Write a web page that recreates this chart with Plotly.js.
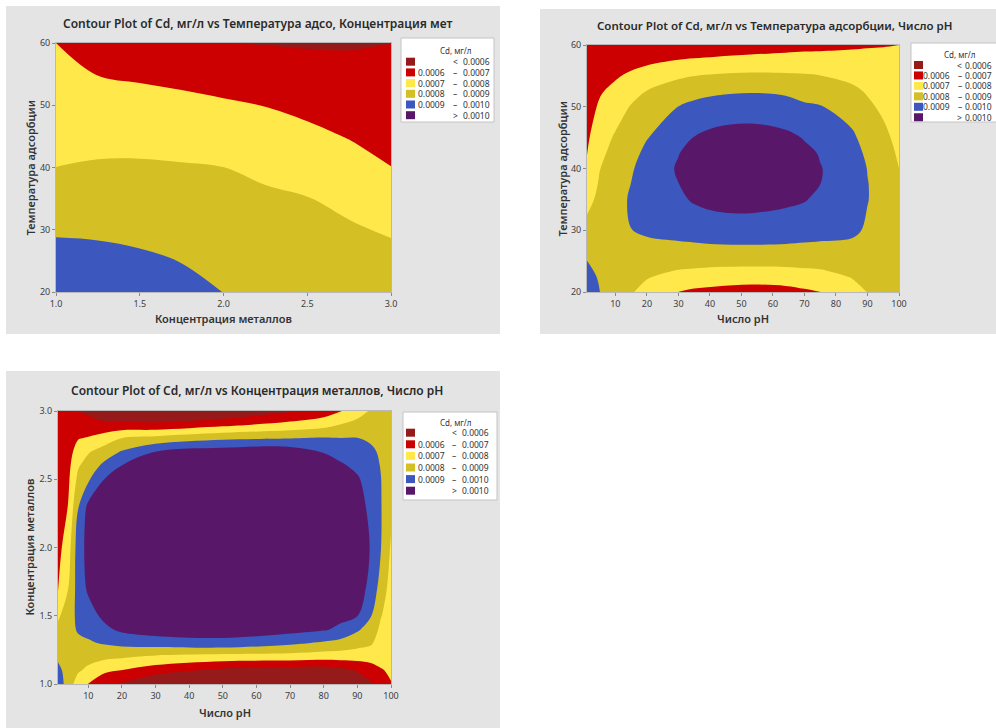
<!DOCTYPE html>
<html>
<head>
<meta charset="utf-8">
<script src="https://cdn.plot.ly/plotly-3.0.1.min.js"></script>
<style>
  html, body { margin: 0; padding: 0; background: #ffffff; }
  #chart { width: 996px; height: 728px; }
</style>
</head>
<body>
<div id="chart"></div>
<script>
// ---- Cd response bands -------------------------------------------------
const levels = [0.0006, 0.0007, 0.0008, 0.0009, 0.0010];           // мг/л
const bandColors = ['#961A1A', '#CC0000', '#FFE94A', '#D4BF25', '#3C57BE', '#591769'];
const legendTitle = 'Cd, мг/л';
const Z_UNIT = 1e-4;   // the z grids below are written in units of 1e-4 мг/л

// ---- Panel A: Температура адсорбции vs Концентрация металлов -----------
const titleA = 'Contour Plot of Cd, мг/л vs Температура адсо, Концентрация мет';
const xTitleA = 'Концентрация металлов';
const yTitleA = 'Температура адсорбции';
const concA = [1.0, 1.25, 1.5, 1.75, 2.0, 2.25, 2.5, 2.75, 3.0];
const tempA = [20, 25, 30, 35, 40, 45, 50, 55, 60];
const cdA = [
  [9.79, 9.64, 9.48, 9.28, 8.99, 8.87, 8.78, 8.74, 8.70],
  [9.34, 9.25, 9.14, 8.98, 8.76, 8.63, 8.53, 8.43, 8.30],
  [8.89, 8.87, 8.79, 8.67, 8.50, 8.38, 8.28, 8.12, 7.89],
  [8.45, 8.48, 8.45, 8.37, 8.26, 8.14, 8.03, 7.75, 7.45],
  [8.005, 8.10, 8.11, 8.07, 8.005, 7.82, 7.63, 7.35, 7.01],
  [7.75, 7.72, 7.72, 7.66, 7.56, 7.40, 7.21, 6.96, 6.75],
  [7.50, 7.35, 7.30, 7.22, 7.12, 6.98, 6.78, 6.61, 6.50],
  [7.25, 6.98, 6.88, 6.77, 6.59, 6.47, 6.35, 6.26, 6.25],
  [7.00, 6.60, 6.47, 6.32, 6.01, 5.96, 5.92, 5.92, 5.995]
];
const xTicksA = [1.0, 1.5, 2.0, 2.5, 3.0];
const yTicksA = [20, 30, 40, 50, 60];

// ---- Panel B: Температура адсорбции vs Число pH -------------------------
const titleB = 'Contour Plot of Cd, мг/л vs Температура адсорбции, Число pH';
const xTitleB = 'Число pH';
const yTitleB = 'Температура адсорбции';
const phB = [1, 5, 10, 15, 20, 30, 35, 42, 53, 64, 70, 75, 85, 90, 95, 100];
const tempB = [20, 22.5, 25, 27.5, 30, 35, 37.5, 40, 42.5, 45, 50, 52.5, 55, 57.5, 60];
const cdB = [
  [9.71, 9.01, 8.55, 8.07, 7.71, 6.99, 6.82, 6.70, 6.57, 6.66, 6.84, 6.99, 7.66, 8.02, 8.40, 8.50],
  [9.36, 8.88, 8.62, 8.30, 8.07, 7.73, 7.64, 7.53, 7.46, 7.52, 7.63, 7.70, 8.05, 8.25, 8.52, 8.47],
  [9.01, 8.75, 8.68, 8.52, 8.43, 8.35, 8.33, 8.29, 8.28, 8.29, 8.31, 8.33, 8.43, 8.47, 8.60, 8.44],
  [8.66, 8.62, 8.72, 8.76, 8.80, 8.90, 8.91, 8.95, 8.97, 8.95, 8.92, 8.91, 8.82, 8.68, 8.66, 8.40],
  [8.31, 8.49, 8.74, 8.99, 9.15, 9.23, 9.33, 9.45, 9.49, 9.40, 9.32, 9.22, 9.19, 8.88, 8.68, 8.35],
  [7.70, 8.24, 8.70, 9.10, 9.54, 9.80, 10.12, 10.36, 10.41, 10.23, 10.07, 9.75, 9.63, 9.03, 8.66, 8.20],
  [7.42, 8.10, 8.62, 9.01, 9.55, 9.99, 10.33, 10.57, 10.63, 10.45, 10.27, 10.005, 9.65, 9.03, 8.62, 8.10],
  [7.15, 7.97, 8.50, 8.88, 9.48, 10.08, 10.44, 10.69, 10.75, 10.56, 10.38, 10.03, 9.63, 8.97, 8.52, 8.00],
  [6.98, 7.77, 8.32, 8.70, 9.22, 9.97, 10.27, 10.53, 10.61, 10.41, 10.18, 9.95, 9.45, 8.80, 8.38, 7.88],
  [6.86, 7.54, 8.12, 8.50, 8.96, 9.60, 10.03, 10.32, 10.43, 10.22, 9.95, 9.58, 9.20, 8.58, 8.22, 7.75],
  [6.67, 7.10, 7.53, 8.07, 8.34, 9.01, 9.23, 9.39, 9.49, 9.36, 9.15, 9.06, 8.52, 8.16, 7.84, 7.50],
  [6.58, 6.92, 7.21, 7.64, 8.03, 8.46, 8.69, 8.85, 8.94, 8.86, 8.64, 8.54, 8.19, 7.92, 7.62, 7.38],
  [6.48, 6.78, 6.91, 7.15, 7.41, 7.87, 7.99, 8.10, 8.18, 8.14, 8.09, 8.02, 7.79, 7.59, 7.40, 7.25],
  [6.39, 6.64, 6.72, 6.70, 6.80, 7.03, 7.11, 7.22, 7.33, 7.38, 7.40, 7.38, 7.33, 7.26, 7.18, 7.12],
  [6.35, 6.45, 6.45, 6.40, 6.33, 6.30, 6.30, 6.31, 6.46, 6.62, 6.70, 6.74, 6.86, 6.93, 6.97, 7.00]
];
const xTicksB = [10, 20, 30, 40, 50, 60, 70, 80, 90, 100];
const yTicksB = [20, 30, 40, 50, 60];

// ---- Panel C: Концентрация металлов vs Число pH --------------------------
const titleC = 'Contour Plot of Cd, мг/л vs Концентрация металлов, Число pH';
const xTitleC = 'Число pH';
const yTitleC = 'Концентрация металлов';
const phC = [1, 4, 7, 10, 15, 20, 30, 50, 70, 80, 85, 90, 94, 97, 100];
const concC = [1.0, 1.1, 1.2, 1.3, 1.4, 1.5, 1.7, 2.0, 2.3, 2.5, 2.6, 2.7, 2.8, 2.9, 3.0];
const cdC = [
  [9.52, 8.60, 7.45, 6.98, 6.30, 5.90, 5.00, 5.00, 5.00, 5.00, 5.20, 5.40, 5.85, 6.40, 6.97],
  [9.19, 8.70, 8.14, 7.77, 7.17, 6.98, 6.45, 5.75, 5.50, 5.44, 5.65, 6.08, 6.57, 6.95, 7.10],
  [8.87, 8.75, 8.46, 8.37, 8.23, 8.12, 7.85, 7.60, 7.59, 7.46, 7.47, 7.44, 7.38, 7.25, 7.20],
  [8.55, 8.75, 8.78, 8.89, 9.10, 9.29, 9.45, 9.70, 9.20, 8.87, 8.67, 8.37, 8.14, 7.50, 7.30],
  [8.23, 8.65, 9.10, 9.27, 9.79, 10.20, 10.50, 10.50, 10.35, 10.10, 9.80, 9.13, 8.59, 7.78, 7.40],
  [7.85, 8.50, 9.25, 9.60, 10.25, 10.45, 10.70, 10.70, 10.60, 10.45, 10.25, 10.02, 9.05, 8.05, 7.50],
  [6.90, 7.98, 9.45, 10.15, 10.45, 10.60, 10.75, 10.80, 10.75, 10.60, 10.45, 10.25, 9.85, 8.50, 7.65],
  [6.70, 7.50, 9.55, 10.30, 10.50, 10.65, 10.75, 10.80, 10.80, 10.65, 10.50, 10.30, 9.97, 9.02, 7.90],
  [6.60, 7.02, 8.95, 10.25, 10.35, 10.55, 10.75, 10.80, 10.75, 10.60, 10.45, 10.25, 9.85, 9.05, 8.20],
  [6.55, 6.80, 8.26, 8.86, 10.05, 10.35, 10.65, 10.70, 10.75, 10.45, 10.30, 10.13, 9.50, 9.02, 8.35],
  [6.50, 6.70, 7.90, 8.41, 9.27, 10.01, 10.45, 10.60, 10.70, 10.25, 10.15, 9.75, 9.40, 8.95, 8.40],
  [6.50, 6.60, 7.43, 7.92, 8.50, 9.10, 10.02, 10.50, 10.60, 9.97, 9.61, 9.37, 9.20, 8.85, 8.45],
  [6.45, 6.50, 6.95, 7.08, 7.50, 8.04, 8.33, 8.83, 8.98, 9.08, 9.02, 9.02, 8.85, 8.70, 8.45],
  [6.40, 6.40, 6.50, 6.42, 6.26, 6.29, 6.20, 6.75, 7.33, 7.65, 8.03, 8.30, 8.45, 8.50, 8.40],
  [6.35, 6.30, 5.97, 5.80, 5.10, 5.00, 5.00, 5.00, 5.90, 6.47, 6.95, 7.60, 8.10, 8.30, 8.35]
];
const xTicksC = [10, 20, 30, 40, 50, 60, 70, 80, 90, 100];
const yTicksC = [1.0, 1.5, 2.0, 2.5, 3.0];

// ---- page geometry (pixels) -------------------------------------------
const W = 996, H = 728;
const FONT = 'Noto Sans, Open Sans, DejaVu Sans, sans-serif';
const px = v => v / W;
const py = v => 1 - v / H;

const panels = [
  { id: '', x: concA, y: tempA, z: cdA, title: titleA, xt: xTitleA, yt: yTitleA,
    xTicks: xTicksA, yTicks: yTicksA, xFmt: v => v.toFixed(1), yFmt: v => String(v),
    xRange: [1, 3], yRange: [20, 60],
    plot: [56, 43, 391, 292], bg: [6, 6, 500, 334], titlePos: [257, 23], titleSize: 12,
    xtPos: [223.5, 318], ytPos: [30, 167.5],
    leg: { box: [401, 38, 494, 122], title: [456, 51], y0: 61.7, dy: 10.7, sw: 406, lowR: 447, sym: 455, highR: 491.5 } },
  { id: '2', x: phB, y: tempB, z: cdB, title: titleB, xt: xTitleB, yt: yTitleB,
    xTicks: xTicksB, yTicks: yTicksB, xFmt: v => String(v), yFmt: v => String(v),
    xRange: [1, 100], yRange: [20, 60],
    plot: [587, 45, 899, 292], bg: [540, 9, 996, 334], titlePos: [774, 26], titleSize: 11.5,
    xtPos: [743, 318], ytPos: [562, 168.5],
    leg: { box: [911, 43, 1001, 122], title: [960, 54.5], y0: 65, dy: 10.45, sw: 914, lowR: 952, sym: 959.5, highR: 994 } },
  { id: '3', x: phC, y: concC, z: cdC, title: titleC, xt: xTitleC, yt: yTitleC,
    xTicks: xTicksC, yTicks: yTicksC, xFmt: v => String(v), yFmt: v => v.toFixed(1),
    xRange: [1, 100], yRange: [1, 3],
    plot: [58, 411, 391, 684], bg: [6, 371, 500, 728], titlePos: [257, 390], titleSize: 12,
    xtPos: [224.5, 712], ytPos: [29, 547.5],
    leg: { box: [403, 412, 497, 500], title: [456, 422], y0: 432.7, dy: 11.6, sw: 406, lowR: 447, sym: 454, highR: 491 } }
];

// stepped colourscale: each contour band gets one flat colour
const colorscale = [
  [0, bandColors[0]], [0.2, bandColors[0]],
  [0.2, bandColors[1]], [0.4, bandColors[1]],
  [0.4, bandColors[2]], [0.6, bandColors[2]],
  [0.6, bandColors[3]], [0.8, bandColors[3]],
  [0.8, bandColors[4]], [0.95, bandColors[4]],
  [0.95, bandColors[5]], [1, bandColors[5]]
];
const cStart = Math.round(levels[0] / Z_UNIT);
const cEnd = Math.round(levels[levels.length - 1] / Z_UNIT);
const cSize = Math.round((levels[1] - levels[0]) / Z_UNIT);

// legend rows built from the level values
const fmtLevel = v => v.toFixed(4);
const legendRows = [{ low: '', sym: '<', high: fmtLevel(levels[0]) }];
for (let i = 1; i < levels.length; i++) {
  legendRows.push({ low: fmtLevel(levels[i - 1]), sym: '–', high: fmtLevel(levels[i]) });
}
legendRows.push({ low: '', sym: '>', high: fmtLevel(levels[levels.length - 1]) });

const data = [];
const layout = {
  width: W, height: H,
  margin: { l: 0, r: 0, t: 0, b: 0 },
  paper_bgcolor: '#ffffff', plot_bgcolor: 'rgba(0,0,0,0)',
  showlegend: false,
  font: { family: FONT, color: '#333333' },
  shapes: [], annotations: []
};

function addText(text, x, y, opts) {
  layout.annotations.push(Object.assign({
    text: text, xref: 'paper', yref: 'paper', x: px(x), y: py(y),
    xanchor: 'center', yanchor: 'middle', showarrow: false,
    font: { family: FONT, size: 9, color: '#333333' }
  }, opts));
}

panels.forEach(p => {
  const xa = 'x' + p.id, ya = 'y' + p.id;
  data.push({
    type: 'contour', x: p.x, y: p.y, z: p.z, xaxis: xa, yaxis: ya,
    autocontour: false,
    contours: { start: cStart, end: cEnd, size: cSize, coloring: 'fill', showlines: false },
    line: { width: 0, smoothing: 1.0 },
    colorscale: colorscale, showscale: false, hoverinfo: 'skip'
  });

  const axBase = {
    ticks: 'outside', ticklen: 3, tickwidth: 1, tickcolor: '#8a8a8a',
    tickfont: { family: FONT, size: 9, color: '#404040' },
    showline: true, mirror: true, linecolor: '#b8b8b8', linewidth: 1,
    showgrid: false, zeroline: false, fixedrange: true, automargin: false,
    tickmode: 'array'
  };
  layout['xaxis' + p.id] = Object.assign({}, axBase, {
    domain: [px(p.plot[0]), px(p.plot[2])], range: p.xRange, anchor: ya,
    tickvals: p.xTicks, ticktext: p.xTicks.map(p.xFmt)
  });
  layout['yaxis' + p.id] = Object.assign({}, axBase, {
    domain: [py(p.plot[3]), py(p.plot[1])], range: p.yRange, anchor: xa,
    tickvals: p.yTicks, ticktext: p.yTicks.map(p.yFmt)
  });

  // grey panel background
  layout.shapes.push({
    type: 'rect', xref: 'paper', yref: 'paper', layer: 'below',
    x0: px(p.bg[0]), x1: px(p.bg[2]), y0: py(p.bg[3]), y1: py(p.bg[1]),
    fillcolor: '#E4E4E4', line: { width: 0 }
  });

  // titles
  addText(p.title, p.titlePos[0], p.titlePos[1],
    { font: { family: FONT, size: p.titleSize, color: '#2a2a2a', weight: 600 } });
  addText(p.xt, p.xtPos[0], p.xtPos[1],
    { font: { family: FONT, size: 11, color: '#333333', weight: 600 } });
  addText(p.yt, p.ytPos[0], p.ytPos[1],
    { textangle: -90, font: { family: FONT, size: 11, color: '#333333', weight: 600 } });

  // legend box
  const L = p.leg;
  layout.shapes.push({
    type: 'rect', xref: 'paper', yref: 'paper', layer: 'above',
    x0: px(L.box[0]), x1: px(L.box[2]), y0: py(L.box[3]), y1: py(L.box[1]),
    fillcolor: '#ffffff', line: { color: '#c4c4c4', width: 1 }
  });
  addText(legendTitle, L.title[0], L.title[1], { font: { family: FONT, size: 8, color: '#333333' } });
  legendRows.forEach((r, i) => {
    const yc = L.y0 + i * L.dy;
    layout.shapes.push({
      type: 'rect', xref: 'paper', yref: 'paper', layer: 'above',
      x0: px(L.sw), x1: px(L.sw + 9), y0: py(yc + 4), y1: py(yc - 4),
      fillcolor: bandColors[i], line: { width: 0 }
    });
    const f = { family: FONT, size: 8.5, color: '#333333' };
    if (r.low) addText(r.low, L.lowR, yc, { xanchor: 'right', font: f });
    addText(r.sym, L.sym, yc, { font: f });
    addText(r.high, L.highR, yc, { xanchor: 'right', font: f });
  });
});

Plotly.newPlot('chart', data, layout, { displayModeBar: false, staticPlot: true });
</script>
</body>
</html>
